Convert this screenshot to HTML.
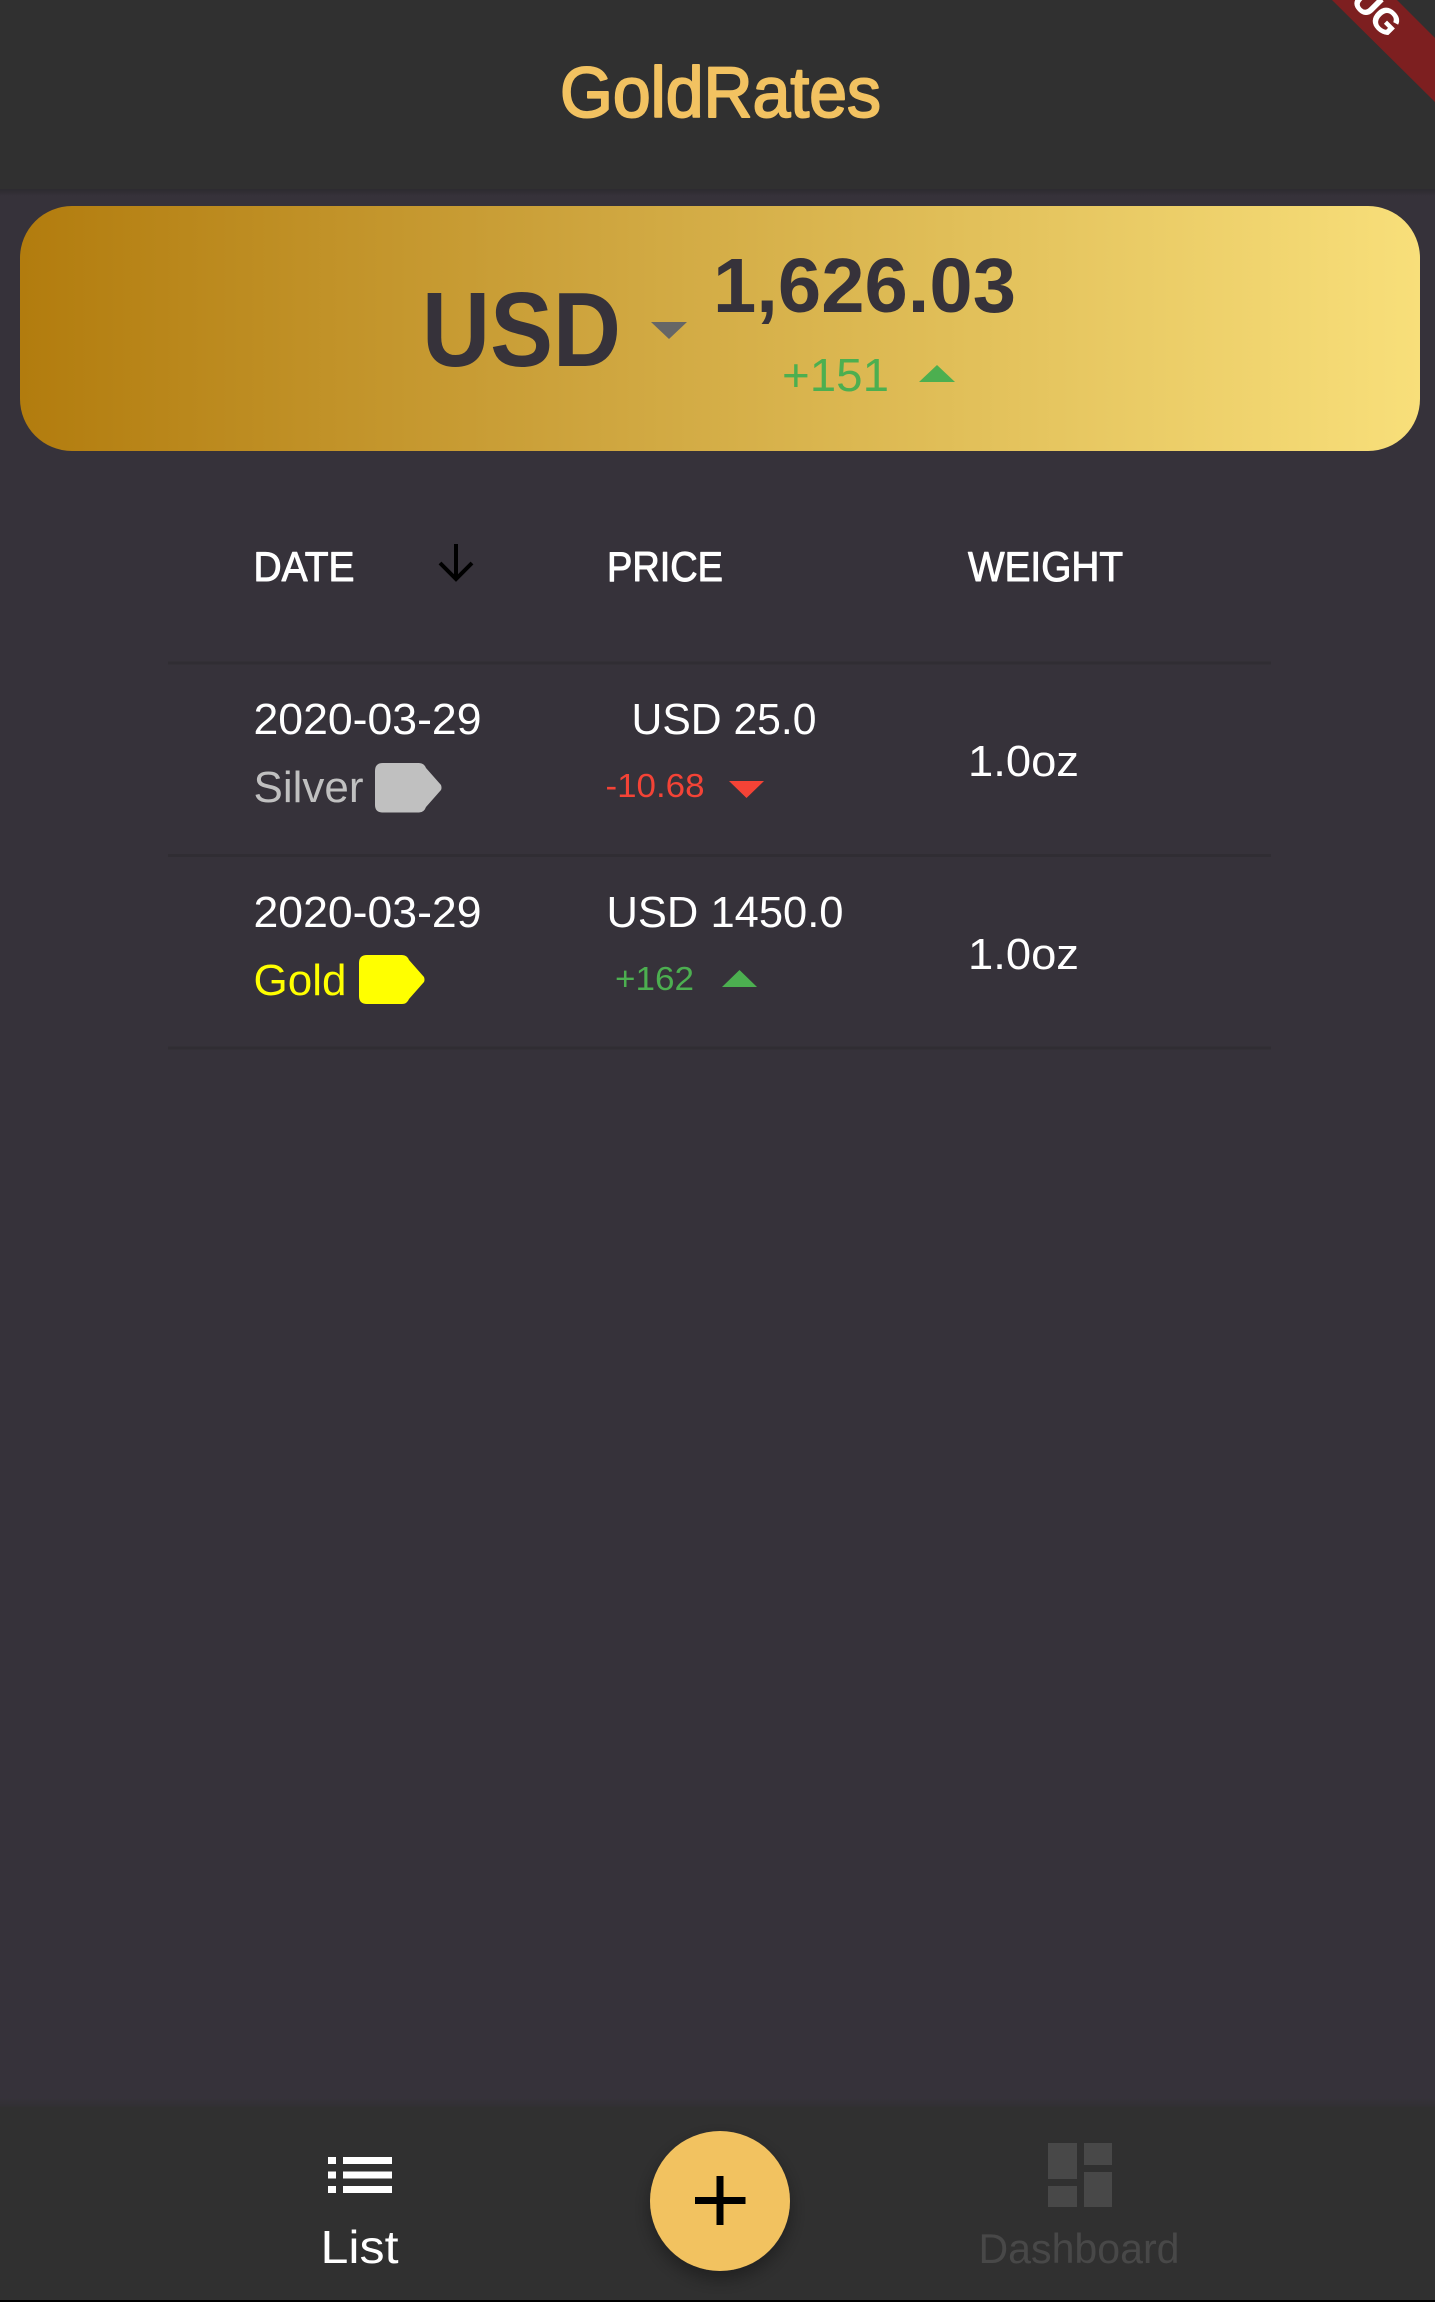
<!DOCTYPE html>
<html lang="en">
<head>
<meta charset="utf-8">
<title>GoldRates</title>
<style>
  html, body { margin: 0; padding: 0; background: #36323a; }
  body { width: 1435px; height: 2302px; overflow: hidden; }
  svg { display: block; }
  text { font-family: "Liberation Sans", Arial, sans-serif; }
  .med { stroke-linejoin: round; }
</style>
</head>
<body>
<svg width="1435" height="2302" viewBox="0 0 1435 2302" xmlns="http://www.w3.org/2000/svg">
  <defs>
    <linearGradient id="cardGrad" x1="0" y1="0" x2="1" y2="0">
      <stop offset="0" stop-color="#b27c0e"/>
      <stop offset="0.38" stop-color="#cca23b"/>
      <stop offset="0.7" stop-color="#e3c25c"/>
      <stop offset="1" stop-color="#f8df7a"/>
    </linearGradient>
    <linearGradient id="topShadow" x1="0" y1="0" x2="0" y2="1">
      <stop offset="0" stop-color="#2c2a2f"/>
      <stop offset="1" stop-color="#36323a"/>
    </linearGradient>
    <linearGradient id="bottomShadow" x1="0" y1="0" x2="0" y2="1">
      <stop offset="0" stop-color="#36323a"/>
      <stop offset="1" stop-color="#313033"/>
    </linearGradient>
    <filter id="fabShadow" x="-30%" y="-30%" width="160%" height="170%">
      <feDropShadow dx="0" dy="8" stdDeviation="9" flood-color="#000" flood-opacity="0.35"/>
    </filter>
  </defs>

  <rect x="0" y="0" width="1435" height="2302" fill="#36323a"/>

  <g>
    <rect x="0" y="189" width="1435" height="7" fill="url(#topShadow)"/>
    <rect x="0" y="0" width="1435" height="189" fill="#303030"/>
    <text class="med" x="560" y="117" font-size="71" fill="#f2c261" stroke="#f2c261" stroke-width="2" textLength="321" lengthAdjust="spacingAndGlyphs">GoldRates</text>
  </g>

  <g>
    <rect x="20" y="206" width="1400" height="245" rx="52" ry="52" fill="url(#cardGrad)"/>
    <text x="422" y="366" font-size="106" font-weight="700" fill="#36323a" textLength="199" lengthAdjust="spacingAndGlyphs">USD</text>
    <polygon points="651,322 687,322 669,339" fill="#666666"/>
    <text x="713" y="312" font-size="77" font-weight="700" fill="#36323a" textLength="303" lengthAdjust="spacingAndGlyphs">1,626.03</text>
    <text x="782" y="391" font-size="46" fill="#4caf50" textLength="107" lengthAdjust="spacingAndGlyphs">+151</text>
    <polygon points="919,382 955,382 937,365" fill="#4caf50"/>
  </g>

  <g>
    <text class="med" x="253.5" y="581" font-size="42" fill="#ffffff" stroke="#ffffff" stroke-width="1" textLength="101" lengthAdjust="spacingAndGlyphs">DATE</text>
    <g fill="none" stroke="#000000" stroke-width="4">
      <line x1="456" y1="544" x2="456" y2="579"/>
      <polyline points="440,563 456,579 472,563"/>
    </g>
    <text class="med" x="607" y="581" font-size="42" fill="#ffffff" stroke="#ffffff" stroke-width="1" textLength="116" lengthAdjust="spacingAndGlyphs">PRICE</text>
    <text class="med" x="968" y="581" font-size="42" fill="#ffffff" stroke="#ffffff" stroke-width="1" textLength="155" lengthAdjust="spacingAndGlyphs">WEIGHT</text>
  </g>

  <rect x="168" y="661.5" width="1103" height="3" fill="#302d33"/>

  <g>
    <text x="253.5" y="734" font-size="44" fill="#ffffff" textLength="228" lengthAdjust="spacingAndGlyphs">2020-03-29</text>
    <text x="253.5" y="802" font-size="44" fill="#c0c0c0" textLength="110" lengthAdjust="spacingAndGlyphs">Silver</text>
    <path d="M383,763 H419 Q424,763 426,768 L441,785 Q442,788 441,790 L426,807 Q424,812.5 419,812.5 H383 Q375,812.5 375,805 V771 Q375,763 383,763 Z" fill="#c0c0c0"/>
    <text x="631.5" y="734" font-size="44" fill="#ffffff" textLength="185" lengthAdjust="spacingAndGlyphs">USD 25.0</text>
    <text x="605.5" y="797" font-size="33" fill="#f44336" textLength="99" lengthAdjust="spacingAndGlyphs">-10.68</text>
    <polygon points="729,781 764,781 746.5,798" fill="#f44336"/>
    <text x="968" y="776" font-size="44" fill="#ffffff" textLength="111" lengthAdjust="spacingAndGlyphs">1.0oz</text>
  </g>

  <rect x="168" y="854" width="1103" height="3" fill="#302d33"/>

  <g>
    <text x="253.5" y="927" font-size="44" fill="#ffffff" textLength="228" lengthAdjust="spacingAndGlyphs">2020-03-29</text>
    <text x="253.5" y="995" font-size="44" fill="#ffff00" textLength="93" lengthAdjust="spacingAndGlyphs">Gold</text>
    <path d="M367,955 H402 Q407,955 409,960 L424,977 Q425,980 424,982 L409,999 Q407,1004 402,1004 H367 Q359,1004 359,996 V963 Q359,955 367,955 Z" fill="#ffff00"/>
    <text x="606.5" y="927" font-size="44" fill="#ffffff" textLength="237" lengthAdjust="spacingAndGlyphs">USD 1450.0</text>
    <text x="615" y="990" font-size="33" fill="#4caf50" textLength="79" lengthAdjust="spacingAndGlyphs">+162</text>
    <polygon points="722,987 757,987 739.5,970" fill="#4caf50"/>
    <text x="968" y="969" font-size="44" fill="#ffffff" textLength="111" lengthAdjust="spacingAndGlyphs">1.0oz</text>
  </g>

  <rect x="168" y="1046.5" width="1103" height="3" fill="#302d33"/>

  <g>
    <rect x="0" y="2098" width="1435" height="9" fill="url(#bottomShadow)"/>
    <rect x="0" y="2107" width="1435" height="193" fill="#303030"/>
    <rect x="0" y="2300" width="1435" height="2" fill="#000000"/>

    <g>
      <g fill="#ffffff">
        <rect x="328" y="2157" width="8" height="7"/>
        <rect x="343" y="2157" width="49" height="7"/>
        <rect x="328" y="2171.5" width="8" height="7"/>
        <rect x="343" y="2171.5" width="49" height="7"/>
        <rect x="328" y="2186" width="8" height="7"/>
        <rect x="343" y="2186" width="49" height="7"/>
      </g>
      <text x="320.5" y="2263" font-size="46" fill="#ffffff" textLength="78" lengthAdjust="spacingAndGlyphs">List</text>
    </g>

    <g>
      <circle cx="720" cy="2201" r="70" fill="#f2c261" filter="url(#fabShadow)"/>
      <rect x="695" y="2197" width="50.5" height="7" fill="#000000"/>
      <rect x="716.5" y="2176" width="7" height="49" fill="#000000"/>
    </g>

    <g>
      <g fill="#484848">
        <rect x="1048" y="2143" width="29" height="36"/>
        <rect x="1048" y="2186" width="29" height="21"/>
        <rect x="1084" y="2143" width="28" height="22"/>
        <rect x="1084" y="2172" width="28" height="35"/>
      </g>
      <text x="978.5" y="2263" font-size="42" fill="#484848" textLength="201" lengthAdjust="spacingAndGlyphs">Dashboard</text>
    </g>
  </g>

  <g>
    <polygon points="1332,0 1435,102 1435,38 1397,0" fill="#7d1f20"/>
    <text transform="translate(1387 39) rotate(45)" text-anchor="end" font-size="35" font-weight="700" fill="#ffffff" stroke="#ffffff" stroke-width="0.6">DEBUG</text>
  </g>
</svg>
</body>
</html>
